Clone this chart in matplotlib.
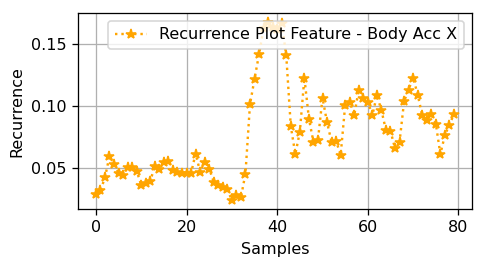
import matplotlib
matplotlib.use("Agg")
import matplotlib.pyplot as plt
import numpy as np

samples = np.arange(80)
recurrence = [
    0.029, 0.032, 0.0425, 0.0597, 0.0532, 0.0462, 0.0444, 0.0506, 0.0506, 0.0478,
    0.0363, 0.0377, 0.0398, 0.0516, 0.049, 0.0551, 0.0559, 0.0487, 0.047, 0.046,
    0.046, 0.046, 0.0618, 0.047, 0.0551, 0.0497, 0.039, 0.0363, 0.035, 0.0328,
    0.0242, 0.0282, 0.0264, 0.0457, 0.1016, 0.122, 0.142, 0.163, 0.168, 0.164,
    0.162, 0.167, 0.141, 0.0839, 0.0613, 0.0793, 0.123, 0.090, 0.0712, 0.073,
    0.1067, 0.0870, 0.0712, 0.072, 0.0605, 0.1008, 0.1035, 0.0927, 0.1135, 0.107,
    0.1035, 0.0927, 0.1089, 0.0968, 0.0806, 0.080, 0.066, 0.0712, 0.104, 0.1135,
    0.123, 0.1094, 0.0927, 0.089, 0.0935, 0.086, 0.0613, 0.0766, 0.0852, 0.0935,
]
label = "Recurrence Plot Feature - Body Acc X"

DPI = 115
fig = plt.figure(figsize=(480 / DPI, 267 / DPI), dpi=DPI)
ax = fig.add_axes([0.1625, 0.217, 0.8205, 0.734])
ax.plot(samples, recurrence, linestyle=':', marker='*', color='orange', label=label)
ax.set_xlabel("Samples")
ax.set_ylabel("Recurrence")
ax.set_xticks([0, 20, 40, 60, 80])
ax.set_yticks([0.05, 0.10, 0.15])
ax.grid(True)
ax.legend(loc='upper right')
fig.savefig("out.png", dpi=DPI)
